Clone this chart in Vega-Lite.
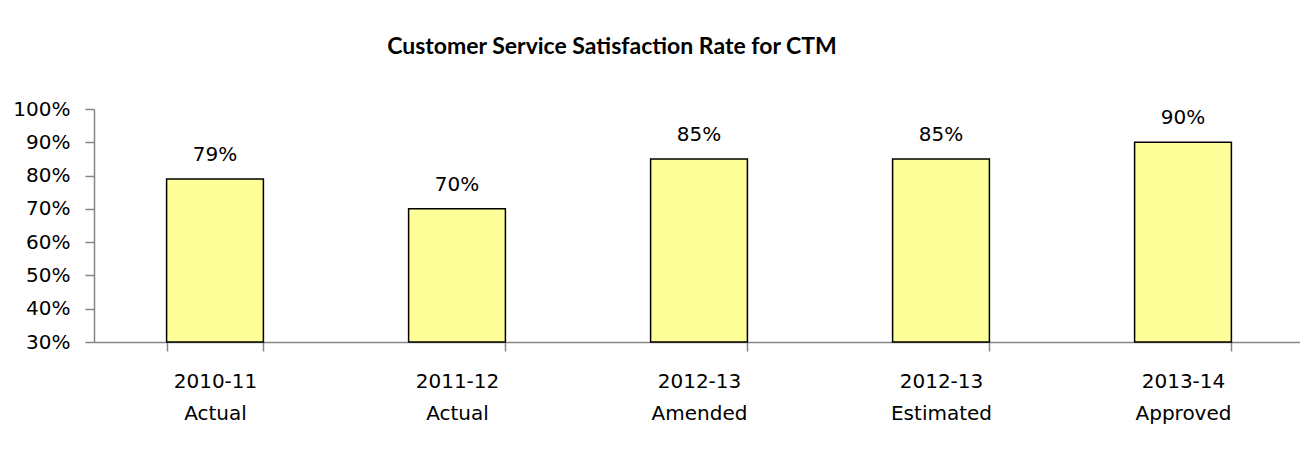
{
  "$schema": "https://vega.github.io/schema/vega-lite/v6.json",
  "width": 1210,
  "height": 233,
  "autosize": {"type": "none"},
  "padding": {"left": 94, "top": 109, "right": 0, "bottom": 111},
  "background": "white",
  "title": {
    "text": "Customer Service Satisfaction Rate for CTM",
    "font": "Lato",
    "fontSize": 23,
    "fontWeight": "bold",
    "color": "black",
    "anchor": "middle",
    "frame": "group",
    "dx": -87,
    "offset": 22,
    "baseline": "alphabetic"
  },
  "config": {"view": {"stroke": null}},
  "data": {
    "values": [
      {"period": "2010-11 Actual", "rate": 0.79},
      {"period": "2011-12 Actual", "rate": 0.70},
      {"period": "2012-13 Amended", "rate": 0.85},
      {"period": "2012-13 Estimated", "rate": 0.85},
      {"period": "2013-14 Approved", "rate": 0.90}
    ]
  },
  "encoding": {
    "x": {
      "field": "period",
      "type": "nominal",
      "sort": null,
      "scale": {"paddingInner": 0.6, "paddingOuter": 0.3},
      "axis": {
        "title": null,
        "labelAngle": 0,
        "labelExpr": "split(datum.label, ' ')",
        "labelFont": "DejaVu Sans",
        "labelFontSize": 20,
        "labelColor": "black",
        "labelLineHeight": 32,
        "labelPadding": 20,
        "labelBaseline": "top",
        "tickBand": "extent",
        "tickSize": 9,
        "tickColor": "#868686",
        "domainColor": "#868686",
        "domainWidth": 1.5,
        "tickWidth": 1.5
      }
    },
    "y": {
      "field": "rate",
      "type": "quantitative",
      "scale": {"domain": [0.3, 1], "zero": false, "nice": false},
      "axis": {
        "title": null,
        "format": ".0%",
        "values": [0.3, 0.4, 0.5, 0.6, 0.7, 0.8, 0.9, 1.0],
        "grid": false,
        "labelFont": "DejaVu Sans",
        "labelFontSize": 20,
        "labelColor": "black",
        "labelPadding": 15,
        "tickSize": 9,
        "tickColor": "#868686",
        "domainColor": "#868686",
        "domainWidth": 1.5,
        "tickWidth": 1.5
      }
    }
  },
  "layer": [
    {
      "mark": {"type": "bar", "fill": "#FFFF99", "stroke": "black", "strokeWidth": 1.5},
      "encoding": {"y2": {"datum": 0.3}}
    },
    {
      "mark": {"type": "text", "font": "DejaVu Sans", "fontSize": 20, "color": "black", "baseline": "alphabetic", "dy": -18},
      "encoding": {"text": {"field": "rate", "type": "quantitative", "format": ".0%"}}
    }
  ]
}
